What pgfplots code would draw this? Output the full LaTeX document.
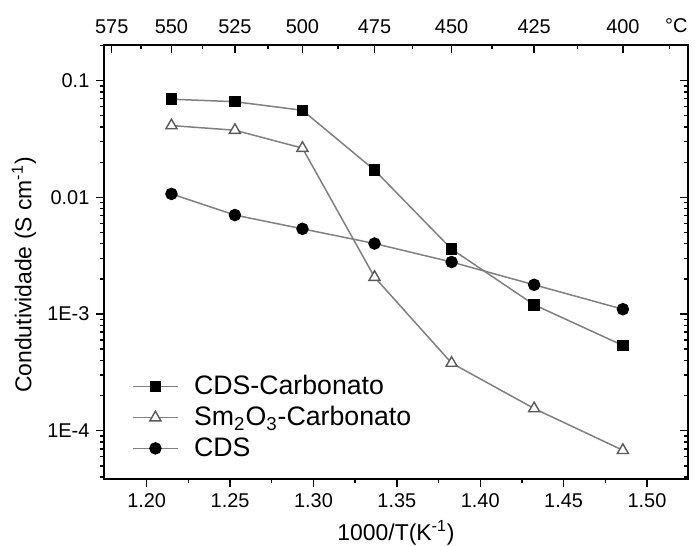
\documentclass[border=0pt]{standalone}
\usepackage{pgfplots}
\pgfplotsset{compat=1.18}
\usepackage{fontspec}
\setmainfont{Liberation Sans}

\definecolor{linegray}{gray}{0.5}

\pgfplotsset{
  every axis/.append style={
    axis line style={line width=0.8bp},
    major tick length=3.8bp,
    minor tick length=2bp,
    tick style={line width=0.7bp, black},
    tick label style={font=\fontsize{10}{12}\selectfont},
  },
}

\begin{document}
\begin{tikzpicture}

% main axis: data, bottom and left ticks (outside)
\begin{axis}[
  scale only axis,
  width=292bp, height=217bp,
  xmin=1.1744, xmax=1.5246,
  ymode=log, ymin=3.86e-5, ymax=0.202,
  ytick={1e-4,1e-3,1e-2,1e-1},
  minor ytick={4e-5,5e-5,6e-5,7e-5,8e-5,9e-5,
    2e-4,3e-4,4e-4,5e-4,6e-4,7e-4,8e-4,9e-4,
    2e-3,3e-3,4e-3,5e-3,6e-3,7e-3,8e-3,9e-3,
    2e-2,3e-2,4e-2,5e-2,6e-2,7e-2,8e-2,9e-2,0.2},
  tick align=outside,
  xtick pos=bottom, ytick pos=left,
  xtick={1.20,1.25,1.30,1.35,1.40,1.45,1.50},
  minor x tick num=1,
  xticklabel style={/pgf/number format/.cd, fixed, fixed zerofill, precision=2, assume math mode=true},
  yticklabels={1E-4,1E-3,0.01,0.1},
  xlabel={1000/T(K\textsuperscript{-1})},
  ylabel={Condutividade (S cm\textsuperscript{-1})},
  xlabel style={font=\fontsize{11.5}{13}\selectfont, at={(axis description cs:0.5,-0.124)}, anchor=center},
  ylabel style={font=\fontsize{11.5}{13}\selectfont, at={(axis description cs:-0.137,0.47)}, anchor=center},
  legend style={draw=none, fill=none, at={(axis description cs:0.037,0.258)}, anchor=north west,
    font=\fontsize{13.4}{15}\selectfont, row sep=0.4bp},
  legend cell align=left,
  legend image code/.code={%
    \draw[mark repeat=2, mark phase=2] plot coordinates {(0cm,0cm) (0.4cm,0cm) (0.8cm,0cm)};
    \path[draw=none, fill=none] (0.8cm,0cm) -- ++(6bp,0bp);},
]
\addplot[linegray, line width=0.75bp, mark=square*, mark size=2.5bp, mark options={black, fill=black}]
  coordinates {(1.21485,0.0693) (1.25290,0.0660) (1.29341,0.0557) (1.33663,0.0171) (1.38284,0.00360) (1.43235,0.00120) (1.48555,0.000538)};
\addplot[linegray, line width=0.75bp, mark=triangle*, mark size=3.2bp, mark options={draw=black!65, fill=white, line width=0.7bp}]
  coordinates {(1.21485,0.0412) (1.25290,0.0376) (1.29341,0.0264) (1.33663,0.00207) (1.38284,0.000380) (1.43235,0.000155) (1.48555,6.8e-5)};
\addplot[linegray, line width=0.75bp, mark=*, mark size=2.75bp, mark options={black, fill=black}]
  coordinates {(1.21485,0.0107) (1.25290,0.00705) (1.29341,0.00537) (1.33663,0.00402) (1.38284,0.00279) (1.43235,0.00178) (1.48555,0.00110)};
\legend{CDS-Carbonato, Sm\textsubscript{2}O\textsubscript{3}-Carbonato, CDS}
\coordinate (sw) at (rel axis cs:0,0);
\coordinate (ne) at (rel axis cs:1,1);
\end{axis}

% overlay axis: temperature scale on top, inside ticks on top and right
\begin{axis}[
  scale only axis,
  width=292bp, height=217bp,
  xmin=1.1744, xmax=1.5246,
  ymode=log, ymin=3.86e-5, ymax=0.202,
  clip=false,
  ytick={1e-4,1e-3,1e-2,1e-1},
  minor ytick={4e-5,5e-5,6e-5,7e-5,8e-5,9e-5,
    2e-4,3e-4,4e-4,5e-4,6e-4,7e-4,8e-4,9e-4,
    2e-3,3e-3,4e-3,5e-3,6e-3,7e-3,8e-3,9e-3,
    2e-2,3e-2,4e-2,5e-2,6e-2,7e-2,8e-2,9e-2,0.2},
  tick align=inside,
  xtick pos=top, ytick pos=right,
  xticklabel pos=top,
  yticklabels={},
  xtick={1.17904,1.21485,1.25290,1.29341,1.33663,1.38284,1.43235,1.48555},
  xticklabels={575,550,525,500,475,450,425,400},
  minor xtick={1.19659,1.23357,1.27283,1.31466,1.35934,1.40706,1.45826,1.51366},
  xticklabel style={yshift=2bp},
]
\node[anchor=base east, font=\fontsize{10}{12}\selectfont, inner sep=0pt]
  at ([yshift=6bp]rel axis cs:1,1) {°C};
\end{axis}

\pgfresetboundingbox
\path ([shift={(-52bp,-33.4bp)}]sw) rectangle ([shift={(5bp,22.5bp)}]ne);
\end{tikzpicture}
\end{document}
